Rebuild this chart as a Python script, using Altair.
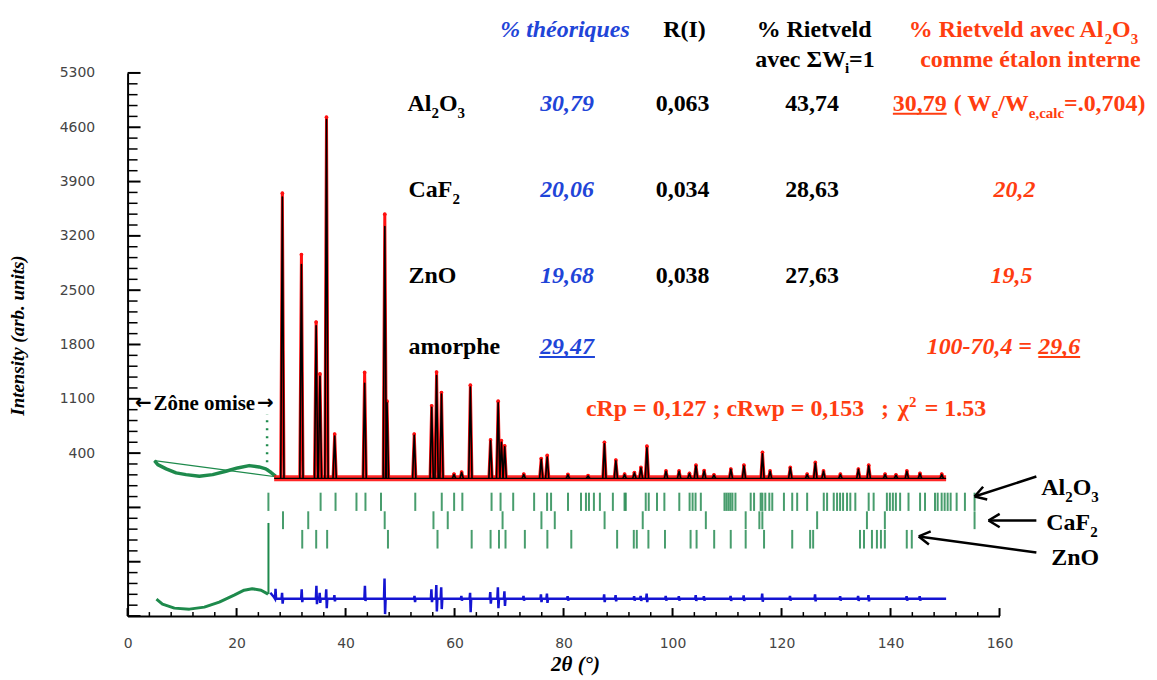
import altair as alt
import pandas as pd

# ---------------- values ----------------
# Rietveld pattern: peak positions (2theta, deg), observed and calculated tops
peak_pos = [28.4, 31.9, 34.6, 35.3, 36.5, 38.0, 43.5, 47.2, 47.6, 52.6, 55.8, 56.7, 57.6, 59.9,
            61.3, 62.9, 66.6, 68.0, 68.6, 69.2, 72.7, 75.9, 77.0, 80.8, 84.5, 87.5, 89.6, 91.2,
            93.0, 94.2, 95.3, 98.8, 101.2, 103.1, 104.3, 105.8, 107.6, 110.7, 113.1, 116.5, 117.9,
            121.6, 124.7, 126.2, 127.7, 130.8, 134.1, 136.0, 139.0, 141.0, 143.0, 145.4, 149.4]
peak_obs = [3750, 2960, 2090, 1420, 4730, 645, 1440, 3480, 1070, 645, 1010, 1445, 1180, 130,
            155, 1275, 570, 1070, 560, 495, 130, 330, 370, 125, 110, 540, 310, 130,
            150, 215, 490, 170, 170, 140, 245, 175, 120, 195, 245, 410, 170,
            215, 130, 280, 170, 130, 195, 245, 130, 120, 170, 140, 130]
peak_calc = [3700, 2830, 2040, 1390, 4700, 620, 1300, 3320, 1050, 630, 990, 1400, 1160, 125,
             150, 1250, 560, 1050, 540, 480, 125, 320, 350, 120, 105, 520, 300, 125,
             145, 210, 470, 165, 165, 135, 235, 170, 115, 190, 235, 390, 165,
             210, 125, 270, 165, 125, 190, 235, 125, 115, 165, 135, 125]
background_x = [26.9, 150.2]
background_y = [75, 75]

# omitted zone (amorphous hump), observed
amorph_x = [4.94, 5.54, 7.08, 8.90, 10.73, 13.17, 15.60, 18.05, 20.17, 22.31, 24.14, 25.36, 26.28, 27.19]
amorph_y = [303, 252, 197, 145, 123, 101, 123, 166, 209, 239, 222, 197, 153, 101]
amorph_line_x = [4.94, 27.19]
amorph_line_y = [303, 95]
omit_peak_x = [25.6]
omit_peak_lo = [180]
omit_peak_hi = [900]

# difference curve
diff_base = -1478
diff_start_x = [26.2, 26.8]
diff_start_y = [-1400, -1450]
diff_end_x = [150.2]
diff_pos = [27.2, 28.4, 32.0, 34.7, 35.3, 36.5, 38.0, 43.6, 47.2, 52.7, 55.8, 56.7, 57.6, 61.3,
            62.9, 66.6, 68.0, 69.2, 72.7, 75.9, 77.0, 80.8, 87.5, 89.6, 93.0, 94.2, 95.3, 98.8,
            101.2, 104.3, 105.8, 110.7, 113.1, 116.5, 121.6, 126.2, 130.8, 134.1, 136.0, 143.0, 145.4]
diff_hi = [-1350, -1400, -1354, -1311, -1400, -1354, -1430, -1311, -1217, -1440, -1354, -1300, -1330, -1440,
           -1400, -1390, -1330, -1380, -1440, -1420, -1410, -1445, -1420, -1430, -1445, -1440, -1410, -1440,
           -1445, -1430, -1445, -1440, -1435, -1410, -1440, -1420, -1445, -1440, -1430, -1445, -1445]
diff_lo = [-1480, -1540, -1520, -1546, -1530, -1600, -1510, -1504, -1675, -1520, -1520, -1640, -1610, -1500,
           -1650, -1540, -1600, -1570, -1500, -1520, -1530, -1500, -1520, -1510, -1500, -1505, -1520, -1500,
           -1500, -1505, -1500, -1505, -1505, -1515, -1500, -1510, -1500, -1505, -1510, -1500, -1500]
omit_diff_x = [5.30, 6.40, 8.59, 11.34, 14.08, 16.82, 19.56, 21.39, 22.86, 24.50, 25.78]
omit_diff_y = [-1482, -1546, -1598, -1611, -1585, -1521, -1431, -1367, -1348, -1367, -1418]
omit_diff_spike_x = [25.85]
omit_diff_spike_lo = [-1418]
omit_diff_spike_hi = [-500]

# Bragg reflection positions
bragg_al2o3 = [25.84, 35.42, 38.16, 42.00, 43.65, 46.50, 52.79, 57.65, 59.92, 61.43, 66.79, 68.44, 70.76,
               74.60, 76.98, 77.71, 80.82, 83.20, 84.11, 84.66, 85.57, 86.67, 89.05, 91.19, 91.42, 95.08,
               95.63, 97.15, 98.50, 101.24, 103.13, 103.68, 104.22, 105.19, 109.53, 109.89, 110.26, 110.62,
               110.99, 111.54, 114.34, 114.96, 116.17, 116.48, 117.02, 117.76, 118.30, 120.44, 121.96,
               122.87, 124.70, 127.75, 128.36, 129.58, 130.19, 130.74, 131.29, 132.02, 132.62, 133.54,
               135.99, 136.90, 139.33, 139.88, 140.43, 140.98, 141.76, 143.30, 145.42, 146.33, 148.16,
               148.65, 149.38, 149.93, 150.48, 151.03, 152.13, 153.65, 155.42]
bragg_caf2 = [28.52, 33.15, 47.18, 56.13, 58.75, 68.81, 75.94, 78.39, 87.53, 94.53, 106.11, 113.42,
              115.93, 116.48, 126.53, 135.67, 138.96, 155.42]
bragg_zno = [32.05, 34.61, 36.62, 47.78, 56.87, 63.14, 66.61, 68.15, 69.35, 72.90, 77.03, 81.42, 89.83,
             92.89, 93.44, 95.57, 98.61, 103.31, 104.41, 107.64, 110.68, 113.42, 116.79, 121.96, 125.25,
             125.80, 134.40, 135.13, 136.59, 137.50, 138.24, 138.96, 142.98, 143.90]
bragg_rows_lo = [-345, -580, -830]
bragg_rows_hi = [-110, -350, -590]

# axes
x_tick_labels = [0, 20, 40, 60, 80, 100, 120, 140, 160]
y_tick_labels = [400, 1100, 1800, 2500, 3200, 3900, 4600, 5300]

# table
theo = ["30,79", "20,06", "19,68", "29,47"]
r_i = ["0,063", "0,034", "0,038"]
riet = ["43,74", "28,63", "27,63"]
riet_std = ["30,79", "20,2", "19,5", "29,6"]

# ---------------- chart ----------------
W, H = 875, 545
SERIF = "Liberation Serif"
XS = alt.Scale(domain=[0, 160], nice=False, zero=False)
YS = alt.Scale(domain=[-1700, 5300], nice=False, zero=False)
XA = alt.Axis(values=x_tick_labels, ticks=False, grid=False, domainColor="black", domainWidth=2,
              labelFont="DejaVu Sans", labelFontSize=14, labelColor="#444444", labelPadding=28,
              labelBaseline="middle", labelFlush=False, labelOverlap=False, format="d",
              title="2θ (°)", titleFont=SERIF, titleFontSize=21, titleFontWeight="bold",
              titleFontStyle="italic", titleColor="black", titleX=449, titleY=49, titleBaseline="middle")
YA = alt.Axis(values=y_tick_labels, ticks=False, grid=False, domainColor="black", domainWidth=2,
              labelFont="DejaVu Sans", labelFontSize=14, labelColor="#444444", labelPadding=33,
              labelFlush=False, labelOverlap=False, format="d",
              title="Intensity (arb. units)", titleFont=SERIF, titleFontSize=19, titleFontWeight="bold",
              titleFontStyle="italic", titleColor="black", titleX=-110, titleY=263, titleAngle=270,
              titleBaseline="middle")


def X(f="x"):
    return alt.X(f, type="quantitative", scale=XS, axis=XA)


def Y(f="y"):
    return alt.Y(f, type="quantitative", scale=YS, axis=YA)


layers = []

# axis ticks pointing inward
ymaj = [v for v in range(-1700, 5301, 700)]
ymin = [v for v in range(-1700, 5301, 140) if v not in ymaj]
xmaj = x_tick_labels
xmin = [v for v in range(0, 161, 4) if v not in xmaj]
layers.append(alt.Chart(pd.DataFrame({"y": ymaj})).mark_rule(color="black", strokeWidth=2)
              .encode(y=Y(), x=alt.value(0), x2=alt.value(13)))
layers.append(alt.Chart(pd.DataFrame({"y": ymin})).mark_rule(color="black", strokeWidth=1.5)
              .encode(y=Y(), x=alt.value(0), x2=alt.value(10)))
layers.append(alt.Chart(pd.DataFrame({"x": xmaj})).mark_rule(color="black", strokeWidth=2)
              .encode(x=X(), y=alt.value(H), y2=alt.value(H - 8)))
layers.append(alt.Chart(pd.DataFrame({"x": xmin})).mark_rule(color="black", strokeWidth=1.5)
              .encode(x=X(), y=alt.value(H), y2=alt.value(H - 4)))

GREEN = "#1e8a4c"
# omitted zone, observed
layers.append(alt.Chart(pd.DataFrame({"x": amorph_line_x, "y": amorph_line_y})).mark_line(color=GREEN, strokeWidth=1.2)
              .encode(x=X(), y=Y()))
layers.append(alt.Chart(pd.DataFrame({"x": amorph_x, "y": amorph_y})).mark_line(color=GREEN, strokeWidth=3.5, strokeJoin="round")
              .encode(x=X(), y=Y()))
layers.append(alt.Chart(pd.DataFrame({"x": omit_peak_x, "y": omit_peak_lo, "y2": omit_peak_hi}))
              .mark_rule(color=GREEN, strokeWidth=2.5, strokeDash=[2, 6]).encode(x=X(), y=Y(), y2=alt.Y2("y2")))

HW = 0.3


def peak_df(heights):
    rows = []
    for i, (p, h) in enumerate(zip(peak_pos, heights)):
        rows += [dict(x=p - HW, y=background_y[0], pid=i), dict(x=p, y=h, pid=i),
                 dict(x=p + HW, y=background_y[0], pid=i)]
    return pd.DataFrame(rows)


bg_df = pd.DataFrame({"x": background_x, "y": background_y})
layers.append(alt.Chart(bg_df).mark_line(color="#ff1010", strokeWidth=6, opacity=0.9).encode(x=X(), y=Y()))
layers.append(alt.Chart(peak_df(peak_obs)).mark_line(color="#ff1010", strokeWidth=3, strokeJoin="round")
              .encode(x=X(), y=Y(), detail="pid:N"))
layers.append(alt.Chart(pd.DataFrame({"x": peak_pos, "y": peak_obs})).mark_circle(color="#ff1010", size=14, opacity=1)
              .encode(x=X(), y=Y()))
layers.append(alt.Chart(bg_df).mark_line(color="black", strokeWidth=1.3).encode(x=X(), y=Y()))
layers.append(alt.Chart(peak_df(peak_calc)).mark_line(color="black", strokeWidth=1.6, strokeJoin="round")
              .encode(x=X(), y=Y(), detail="pid:N"))

# Bragg ticks
brows = []
for lst, lo, hi in zip([bragg_al2o3, bragg_caf2, bragg_zno], bragg_rows_lo, bragg_rows_hi):
    for v in lst:
        brows.append(dict(x=v, y=lo, y2=hi))
layers.append(alt.Chart(pd.DataFrame(brows)).mark_rule(color="#1a8548", strokeWidth=2, opacity=0.8)
              .encode(x=X(), y=Y(), y2=alt.Y2("y2")))

# difference curve
drows = [dict(x=a, y=b) for a, b in zip(diff_start_x, diff_start_y)]
for p, hi, lo in zip(diff_pos, diff_hi, diff_lo):
    drows += [dict(x=p - 0.15, y=diff_base), dict(x=p - 0.05, y=hi), dict(x=p + 0.05, y=lo), dict(x=p + 0.15, y=diff_base)]
drows.append(dict(x=diff_end_x[0], y=diff_base))
layers.append(alt.Chart(pd.DataFrame(drows)).mark_line(color="#1414d2", strokeWidth=2.5)
              .encode(x=X(), y=Y()))
layers.append(alt.Chart(pd.DataFrame({"x": omit_diff_x, "y": omit_diff_y})).mark_line(color=GREEN, strokeWidth=3, strokeJoin="round")
              .encode(x=X(), y=Y()))
layers.append(alt.Chart(pd.DataFrame({"x": omit_diff_spike_x, "y": omit_diff_spike_lo, "y2": omit_diff_spike_hi}))
              .mark_rule(color=GREEN, strokeWidth=2).encode(x=X(), y=Y(), y2=alt.Y2("y2")))


def T(items, size=24, color="black", italic=False, align="left", font=SERIF):
    df = pd.DataFrame(items, columns=["t", "x", "y"])
    return alt.Chart(df).mark_text(font=font, fontSize=size, fontWeight="bold",
                                   fontStyle="italic" if italic else "normal", color=color,
                                   align=align, baseline="alphabetic").encode(x=X(), y=Y(), text=alt.Text("t:N"))


def U(items, color):
    df = pd.DataFrame(items, columns=["x", "x2", "y"])
    return alt.Chart(df).mark_rule(color=color, strokeWidth=2).encode(x=X(), x2=alt.X2("x2"), y=Y())


BLUE = "#1f45d8"
ORANGE = "#ff3d10"
row_y = [4811, 3707, 2589, 1677]
row_sub = [4721, 3617]

# header
layers.append(T([("% théoriques", 80.27, 5762)], color=BLUE, italic=True, align="center"))
layers.append(T([("R(I)", 102.21, 5762), ("% Rietveld", 125.98, 5762)], align="center"))
layers.append(T([("avec ΣW", 115.19, 5376), ("=1", 132.38, 5376)]))
layers.append(T([("i", 131.65, 5299)], size=15))
layers.append(T([("% Rietveld avec Al", 143.35, 5762), ("O", 180.65, 5762)], color=ORANGE))
layers.append(T([("2", 179.3, 5672), ("3", 184.07, 5672)], size=15, color=ORANGE))
layers.append(T([("comme étalon interne", 165.66, 5376)], color=ORANGE, align="center"))

# phase names
layers.append(T([("Al", 51.38, row_y[0]), ("O", 57.14, row_y[0]), ("CaF", 51.56, row_y[1]),
                 ("ZnO", 51.56, row_y[2]), ("amorphe", 51.56, row_y[3])]))
layers.append(T([("2", 55.77, row_sub[0]), ("3", 60.56, row_sub[0]), ("2", 59.61, row_sub[1])], size=15))

# table values
layers.append(T([(theo[i], 80.64, row_y[i]) for i in range(4)], color=BLUE, italic=True, align="center"))
layers.append(T([(r_i[i], 101.85, row_y[i]) for i in range(3)] + [(riet[i], 125.6, row_y[i]) for i in range(3)],
                align="center"))
layers.append(U([(75.52, 85.76, 1639)], BLUE))

layers.append(T([(riet_std[0], 140.43, row_y[0]), ("( W", 151.58, row_y[0]), ("/W", 159.75, row_y[0]),
                 ("=.0,704)", 171.84, row_y[0])], color=ORANGE))
layers.append(T([("e", 158.53, row_sub[0]), ("e,calc", 165.37, row_sub[0])], size=15, color=ORANGE))
layers.append(U([(140.43, 150.3, 4773)], ORANGE))
layers.append(T([(riet_std[1], 162.74, row_y[1]), (riet_std[2], 162.2, row_y[2])], color=ORANGE, italic=True,
                align="center"))
layers.append(T([("100-70,4 =", 146.64, row_y[3]), (riet_std[3], 167.12, row_y[3])], color=ORANGE, italic=True))
layers.append(U([(167.12, 174.8, 1639)], ORANGE))

# fit quality
layers.append(T([("cRp = 0,127 ; cRwp = 0,153", 84.11, 881), (";", 138.23, 881), ("χ", 141.34, 881),
                 ("= 1.53", 146.28, 881)], color=ORANGE))
layers.append(T([("2", 143.4, 995)], size=15, color=ORANGE))

# omitted zone label
layers.append(T([("Zône omise", 14.08, 958)], size=21, align="center"))
layers.append(T([("←", 2.9, 965), ("→", 25.3, 965)], size=20, align="center", font="DejaVu Sans"))

# phase labels on the right with arrows
layers.append(T([("Al", 167.67, -146), ("O", 173.43, -146), ("CaF", 168.59, -596), ("ZnO", 169.5, -1046)]))
layers.append(T([("2", 172.06, -236), ("3", 176.85, -236), ("2", 176.63, -686)], size=15))
arrow_df = pd.DataFrame({"x": [166.76, 166.76, 166.76], "y": [98, -469, -880],
                         "x2": [155.42, 157.98, 145.18], "y2": [-159, -469, -674], "a": [342.1, 0, 7.7]})
layers.append(alt.Chart(arrow_df).mark_rule(color="black", strokeWidth=2.5)
              .encode(x=X(), y=Y(), x2=alt.X2("x2"), y2=alt.Y2("y2")))
layers.append(alt.Chart(arrow_df).mark_point(shape="M0,0L1,-0.6M0,0L1,0.6", filled=False, color="black",
                                             strokeWidth=2.5, size=500, opacity=1)
              .encode(x=X("x2"), y=Y("y2"), angle=alt.Angle("a:Q", scale=None)))

chart = alt.layer(*layers).properties(
    width=W, height=H,
    autosize=alt.AutoSizeParams(type="none"),
    padding={"left": 120, "top": 64, "right": 150, "bottom": 62},
).configure_view(stroke=None)

chart.save("out.html", embed_options={"renderer": "svg", "actions": False})
